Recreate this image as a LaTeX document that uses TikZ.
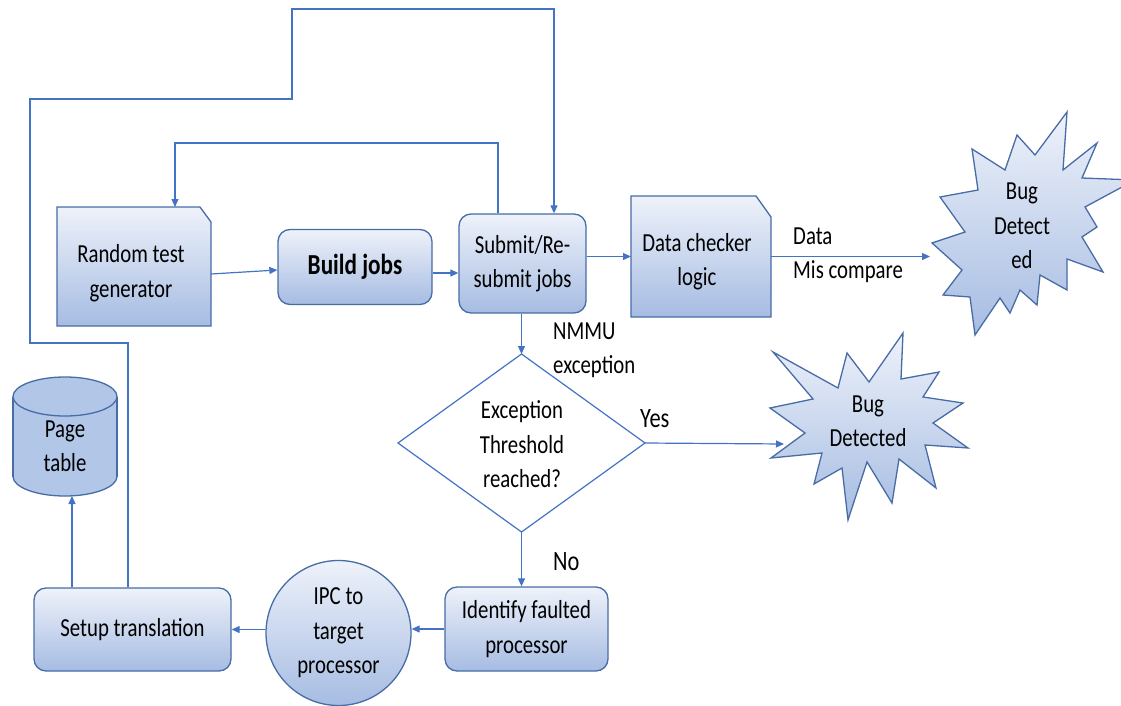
\documentclass[tikz,border=0pt]{standalone}
\usepackage{fontspec}
\setmainfont{Carlito}[FakeStretch=0.8]
\usetikzlibrary{arrows.meta}
\pgfdeclarelayer{back}
\pgfsetlayers{back,main}

\definecolor{fillhi}{RGB}{238,242,250}
\definecolor{filllo}{RGB}{166,188,226}
\definecolor{edge}{RGB}{72,108,166}
\definecolor{wire}{RGB}{68,114,196}
\definecolor{drum}{RGB}{178,198,232}

\tikzset{
  txt/.style={font=\fontsize{26}{34.5}\selectfont, align=center, inner sep=0pt, text=black},
  grad/.style={top color=fillhi, bottom color=filllo, draw=edge, line width=1.3pt},
  rbox/.style={grad, rounded corners=12pt, inner sep=0pt, txt},
  frame/.style={inner sep=0pt, outer sep=0pt},
  wireline/.style={draw=wire, line width=1.2pt},
  flow/.style={wireline, -{Triangle[length=8pt,width=7pt]}},
  biglabel/.style={font=\fontsize{28}{32}\selectfont, inner sep=0pt, anchor=base west},
}

\begin{document}
\begin{tikzpicture}[x=1pt,y=-1pt]
\useasboundingbox (0,0) rectangle (1121,706);

% --- process boxes -------------------------------------------------
\node[frame, minimum width=154pt, minimum height=119pt] (rtg) at (134,266.5) {};
\node[txt] (rtgt) at (131,273) {Random test\\generator};

\node[rbox, minimum width=154pt, minimum height=75pt,
      font=\fontsize{29}{34}\selectfont\bfseries] (build) at (355,267) {Build jobs};

\node[rbox, minimum width=127pt, minimum height=99pt] (submit) at (522.5,263.5) {Submit/Re-\\submit jobs};

\node[frame, minimum width=140pt, minimum height=121pt] (dcl) at (701,256.5) {};
\node[txt] (dclt) at (697,261.5) {Data checker\\logic};

\node[txt, align=left, anchor=west] (mis) at (793,255.5) {Data\\Mis compare};

% --- decision ------------------------------------------------------
\node[frame, minimum width=247pt, minimum height=178pt] (dia) at (521.5,443) {};
\node[txt] (diat) at (522,444.3) {Exception\\Threshold\\reached?};
\node[txt, align=left, anchor=west] (nmmu) at (553,350.5) {NMMU\\exception};
\node[biglabel] (yes) at (640,427) {Yes};
\node[biglabel] (no) at (553,570) {No};

% --- bottom row ----------------------------------------------------
\node[rbox, minimum width=163pt, minimum height=84pt] (idf) at (526.5,629) {Identify faulted\\processor};
\node[circle, grad, minimum size=145pt, inner sep=0pt, txt] (ipc) at (338.5,633) {IPC to\\target\\processor};
\node[rbox, minimum width=197pt, minimum height=83pt] (setup) at (132.5,629.5) {Setup translation};

% --- page table store ----------------------------------------------
\node[frame, minimum width=104pt, minimum height=119pt] (pt) at (65,436.5) {};
\node[txt] (ptt) at (65,446) {Page\\table};

% --- bug bursts ----------------------------------------------------
\node[txt] (bug1) at (1022,226) {Bug\\Detect\\ed};
\node[txt] (bug2) at (868,421.5) {Bug\\Detected};
\coordinate (s1in) at (930,256);
\coordinate (s2in) at (784,444);

\begin{pgfonlayer}{back}
  % snipped-corner boxes
  \path[grad] (rtg.south west) -- (rtg.north west) -- ([xshift=-11pt]rtg.north east)
     -- ([yshift=-15pt]rtg.north east) -- (rtg.south east) -- cycle;
  \path[grad] (dcl.south west) -- (dcl.north west) -- ([xshift=-15pt]dcl.north east)
     -- ([yshift=-21pt]dcl.north east) -- (dcl.south east) -- cycle;
  % decision diamond
  \path[wireline, fill=white] (dia.north) -- (dia.east) -- (dia.south) -- (dia.west) -- cycle;
  % cylinder
  \fill[drum] (65,476.5) ellipse [x radius=52pt, y radius=19.5pt];
  \fill[drum] (13,396.5) rectangle (117,476.5);
  \begin{scope}
    \clip (0,476.5) rectangle (130,520);
    \draw[edge, line width=1.3pt] (65,476.5) ellipse [x radius=52pt, y radius=19.5pt];
  \end{scope}
  \draw[edge, line width=1.3pt] (13,396.5) -- (13,476.5) (117,396.5) -- (117,476.5);
  \draw[edge, line width=1.3pt, fill=drum] (65,396.5) ellipse [x radius=52pt, y radius=19.5pt];
  % burst shapes
  \path[grad] (932,243) -- (965,232) -- (940,197) -- (978,190) -- (972,149) -- (1005,170)
     -- (1017,135) -- (1035,155) -- (1067,112) -- (1063,170) -- (1097,143) -- (1082,178)
     -- (1135,180) -- (1085,207) -- (1097,227) -- (1082,237) -- (1103,272) -- (1067,259)
     -- (1067,290) -- (1040,275) -- (1037,305) -- (1020,290) -- (1010,313) -- (1000,298)
     -- (975,335) -- (970,297) -- (943,295) -- (962,270) -- cycle;
  \path[grad] (773,352) -- (838,388) -- (847,353) -- (869,382) -- (903,333) -- (901,379)
     -- (939,372) -- (923,397) -- (963,403) -- (933,423) -- (968,448) -- (925,445)
     -- (936,488) -- (899,459) -- (892,503) -- (867,462) -- (848,520) -- (842,468)
     -- (814,484) -- (822,453) -- (771,458) -- (805,433) -- (770,408) -- (813,399) -- cycle;
\end{pgfonlayer}

% --- connectors ----------------------------------------------------
\draw[flow] ([yshift=-7.5pt]rtg.east) -- ([yshift=-3pt]build.west);
\draw[flow] ([yshift=-6pt]build.east) -- ([yshift=-6pt]build.east -| submit.west);
\draw[flow] (submit.east |- dcl.west) -- (dcl.west);
\draw[flow] (dcl.east) -- (dcl.east -| s1in);
\draw[flow] (dia.north |- submit.south) -- (dia.north);
\draw[flow] (dia.east) -- (s2in);
\draw[flow] (dia.south) -- (dia.south |- idf.north);
\draw[flow] (idf.west) -- (idf.west -| ipc.east);
\draw[flow] (ipc.west |- setup.east) -- (setup.east);
\draw[flow] ([xshift=7pt]pt.south |- setup.north) -- ([xshift=7pt]pt.south);

% feedback loops
\coordinate (oA) at (30,343);
\coordinate (oB) at (292,99);
\coordinate (oC) at (554,9);
\draw[flow] ([xshift=-4.5pt]setup.north) |- (oA) |- (oB) |- (oC) -| ([xshift=31.5pt]submit.north);
\coordinate (iA) at (175,143);
\draw[flow] ([xshift=-24.5pt]submit.north) |- (iA) -- (iA |- rtg.north);
\end{tikzpicture}
\end{document}
